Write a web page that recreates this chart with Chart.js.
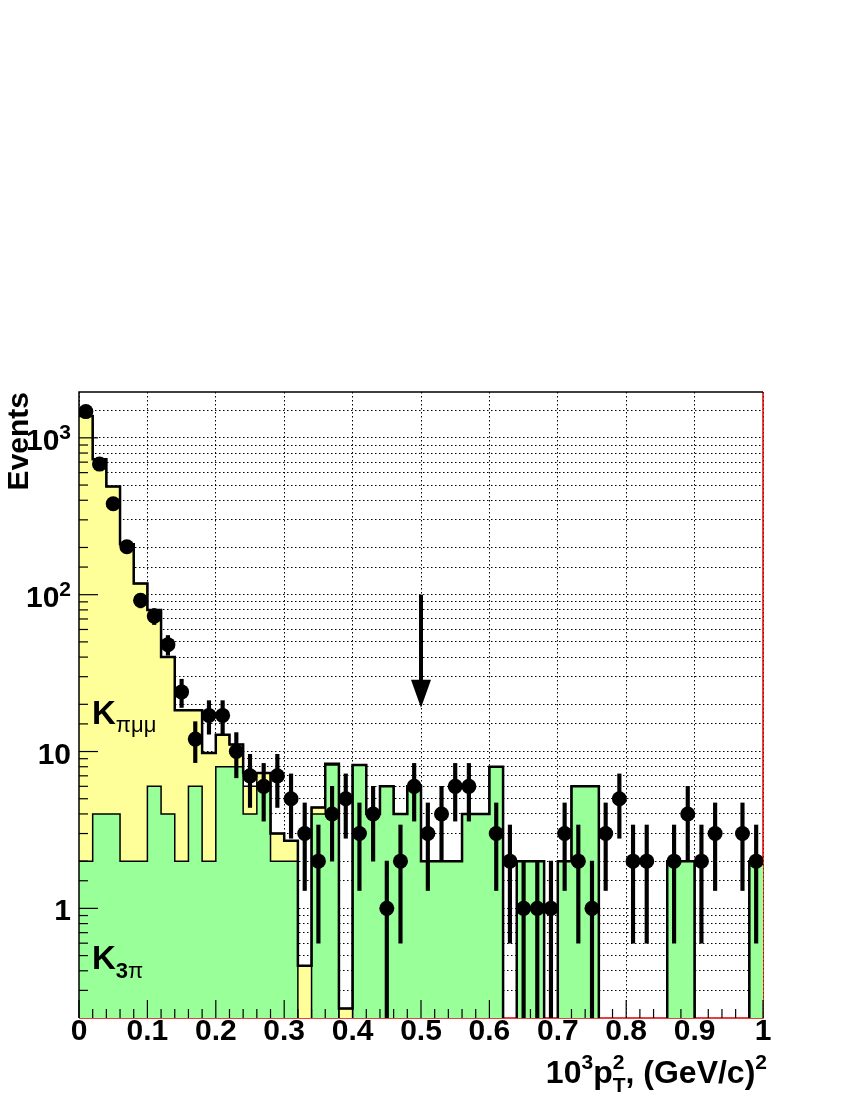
<!DOCTYPE html>
<html>
<head>
<meta charset="utf-8">
<script src="https://cdn.jsdelivr.net/npm/chart.js@4.4.0/dist/chart.umd.min.js"></script>
<style>
  html, body { margin: 0; padding: 0; background: #fff; }
  #wrap { width: 850px; height: 1100px; }
</style>
</head>
<body>
<div id="wrap"><canvas id="pt2" width="850" height="1100"></canvas></div>
<script>
// bin low edges, width 0.02
const binLow = [0.00, 0.02, 0.04, 0.06, 0.08, 0.10, 0.12, 0.14, 0.16, 0.18,
                0.20, 0.22, 0.24, 0.26, 0.28, 0.30, 0.32, 0.34, 0.36, 0.38,
                0.40, 0.42, 0.44, 0.46, 0.48, 0.50, 0.52, 0.54, 0.56, 0.58,
                0.60, 0.62, 0.64, 0.66, 0.68, 0.70, 0.72, 0.74, 0.76, 0.78,
                0.80, 0.82, 0.84, 0.86, 0.88, 0.90, 0.92, 0.94, 0.96, 0.98];
const binWidth = 0.02;

// data (events per bin) and its errors
const dataCounts = [1470, 680, 380, 202, 92, 73, 48, 24, 12, 17,
                    17, 10, 7, 6, 7, 5, 3, 2, 4, 5,
                    3, 4, 1, 2, 6, 3, 4, 6, 6, 0,
                    3, 2, 1, 1, 1, 3, 2, 1, 3, 5,
                    2, 2, 0, 2, 4, 2, 3, 0, 3, 2];
const dataErrors = [38, 26, 19.5, 14.2, 9.6, 8.5, 6.9, 4.9, 3.5, 4.1,
                    4.1, 3.2, 2.6, 2.4, 2.6, 2.2, 1.7, 1.4, 2, 2.2,
                    1.7, 2, 1, 1.4, 2.4, 1.7, 2, 2.4, 2.4, 0,
                    1.7, 1.4, 1, 1, 1, 1.7, 1.4, 1, 1.7, 2.2,
                    1.4, 1.4, 0, 1.4, 2, 1.4, 1.7, 0, 1.7, 1.4];

// MC: K3pi alone (green), K3pi + Kpimumu (yellow), total outline
const k3pi = [2, 4, 4, 2, 2, 6, 4, 2, 6, 2,
              8, 8, 4, 6.3, 2, 2, 0, 4, 8.2, 0,
              8.2, 4, 6, 4, 6, 2, 2, 2, 4, 4,
              8, 0, 2, 2, 0, 2, 6, 6, 0, 0,
              0, 0, 0, 2, 2, 0, 0, 0, 0, 2];
const kpimumuStack = [1380, 730, 490, 210, 118, 80, 40, 18.3, 18.3, 9.8,
                      12.8, 11.1, 6.0, 7.3, 3.0, 2.7, 0.43, 4.4, 8.35, 0.23,
                      8.2, 4, 6, 4, 6, 2, 2, 2, 4, 4,
                      8, 0, 2, 2, 0, 2, 6, 6, 0, 0,
                      0, 0, 0, 2, 2, 0, 0, 0, 0, 2];
const mcTotal = [1380, 730, 490, 210, 118, 80, 40, 18.3, 18.3, 9.8,
                 12.8, 11.1, 7.3, 7.3, 3.0, 2.7, 0.43, 4.4, 8.35, 0.23,
                 8.2, 4, 6, 4, 6, 2, 2, 2, 4, 4,
                 8, 0, 2, 2, 0, 2, 6, 6, 0, 0,
                 0, 0, 0, 2, 2, 0, 0, 0, 0, 2];

// y labels: mantissa text + exponent
const yTickValues = [1, 10, 100, 1000];
const yTickBase = ['1', '10', '10', '10'];
const yTickExp = ['', '', '2', '3'];

// cut arrow
const arrowX = 0.5;
const arrowFrom = 100;
const arrowTo = 19;

const X_MIN = 0, X_MAX = 1;
const Y_MIN = 0.2, Y_MAX = 1960;
const FONT = '"Liberation Sans", Arial, Helvetica, sans-serif';

function histPoints(values) {
    // empty bins go below the frame so only their edges show
    const pts = binLow.map((x, i) => ({ x: x, y: values[i] > 0 ? values[i] : Y_MIN / 2 }));
    pts.push({ x: X_MAX, y: pts[pts.length - 1].y });
    return pts;
}

const points = [];
const errBars = [];
dataCounts.forEach((n, i) => {
    if (n <= 0) return;
    const xc = binLow[i] + binWidth / 2;
    points.push({ x: xc, y: n });
    errBars.push({ x: xc, y: [Math.max(n - dataErrors[i], Y_MIN), n + dataErrors[i]] });
});

function richText(ctx, parts, x, baseline, align) {
    // parts: {t, size, bold, dy, adv}
    let w = 0;
    parts.forEach(p => {
        ctx.font = (p.bold ? 'bold ' : '') + p.size + 'px ' + FONT;
        if (p.adv !== false) w += ctx.measureText(p.t).width;
    });
    let cx = align === 'right' ? x - w : x;
    ctx.textAlign = 'left';
    ctx.textBaseline = 'alphabetic';
    parts.forEach(p => {
        ctx.font = (p.bold ? 'bold ' : '') + p.size + 'px ' + FONT;
        ctx.fillText(p.t, cx, baseline + (p.dy || 0));
        if (p.adv !== false) cx += ctx.measureText(p.t).width;
    });
}

const decorations = {
    id: 'decorations',
    beforeDatasetsDraw(chart) {
        const { ctx, chartArea: a } = chart;
        ctx.save();
        ctx.strokeStyle = '#e00000';
        ctx.lineWidth = 1.5;
        ctx.beginPath();
        ctx.moveTo(a.left, a.bottom);
        ctx.lineTo(a.right, a.bottom);
        ctx.lineTo(a.right, a.top);
        ctx.stroke();
        ctx.restore();
    },
    afterDatasetsDraw(chart) {
        const { ctx, chartArea: a, scales: { x, y } } = chart;
        ctx.save();
        ctx.strokeStyle = '#000';
        ctx.fillStyle = '#000';

        // frame
        ctx.lineWidth = 1.5;
        ctx.beginPath();
        ctx.moveTo(a.right, a.top);
        ctx.lineTo(a.left, a.top);
        ctx.lineTo(a.left, a.bottom);
        ctx.stroke();

        // x ticks, pointing inward
        ctx.lineWidth = 1.2;
        binLow.concat([X_MAX]).forEach(v => {
            const px = x.getPixelForValue(v);
            const major = Math.abs(v * 10 - Math.round(v * 10)) < 1e-6;
            ctx.beginPath();
            ctx.moveTo(px, a.bottom);
            ctx.lineTo(px, a.bottom - (major ? 18 : 9));
            ctx.stroke();
        });
        // y ticks
        y.ticks.forEach(t => {
            if (t.value <= Y_MIN || t.value >= Y_MAX) return;
            const lg = Math.log10(t.value);
            const major = Math.abs(lg - Math.round(lg)) < 1e-6;
            const py = y.getPixelForValue(t.value);
            ctx.beginPath();
            ctx.moveTo(a.left, py);
            ctx.lineTo(a.left + (major ? 19 : 9), py);
            ctx.stroke();
        });

        // arrow
        const ax = x.getPixelForValue(arrowX);
        const ay0 = y.getPixelForValue(arrowFrom);
        const ay1 = y.getPixelForValue(arrowTo);
        ctx.lineWidth = 4;
        ctx.beginPath();
        ctx.moveTo(ax, ay0);
        ctx.lineTo(ax, ay1 - 24);
        ctx.stroke();
        ctx.beginPath();
        ctx.moveTo(ax - 10, ay1 - 28);
        ctx.lineTo(ax + 10, ay1 - 28);
        ctx.lineTo(ax, ay1);
        ctx.closePath();
        ctx.fill();

        // component labels
        richText(ctx, [
            { t: 'K', size: 33, bold: true },
            { t: '\u03C0\u03BC\u03BC', size: 22, bold: false, dy: 8 }
        ], a.left + 13, 724, 'left');
        richText(ctx, [
            { t: 'K', size: 33, bold: true },
            { t: '3', size: 22, bold: true, dy: 9 },
            { t: '\u03C0', size: 22, bold: false, dy: 9 }
        ], a.left + 13, 969, 'left');
        ctx.restore();
    },
    afterDraw(chart) {
        const { ctx, chartArea: a, scales: { y } } = chart;
        ctx.save();
        ctx.fillStyle = '#000';
        // y tick labels with real superscripts
        yTickValues.forEach((v, k) => {
            const py = y.getPixelForValue(v);
            const parts = [{ t: yTickBase[k], size: 30, bold: true }];
            if (yTickExp[k]) parts.push({ t: yTickExp[k], size: 21, bold: true, dy: -11 });
            richText(ctx, parts, a.left - 8, py + 12, 'right');
        });
        ctx.restore();

        ctx.save();
        ctx.fillStyle = '#000';
        // y title
        ctx.translate(28, a.top);
        ctx.rotate(-Math.PI / 2);
        ctx.font = 'bold 30px ' + FONT;
        ctx.textAlign = 'right';
        ctx.textBaseline = 'alphabetic';
        ctx.fillText('Events', 0, 0);
        ctx.restore();

        ctx.save();
        ctx.fillStyle = '#000';
        richText(ctx, [
            { t: '10', size: 32, bold: true },
            { t: '3', size: 21, bold: true, dy: -14 },
            { t: 'p', size: 32, bold: true },
            { t: '2', size: 21, bold: true, dy: -14, adv: false },
            { t: 'T', size: 21, bold: true, dy: 9 },
            { t: ', (GeV/c)', size: 32, bold: true },
            { t: '2', size: 21, bold: true, dy: -14 }
        ], 767, 1083, 'right');
        ctx.restore();
    }
};

const ctx = document.getElementById('pt2').getContext('2d');
const chart = new Chart(ctx, {
    type: 'line',
    data: {
        datasets: [
            {
                type: 'scatter',
                label: 'Data',
                data: points,
                pointRadius: 7.5,
                pointHoverRadius: 7.5,
                pointBackgroundColor: '#000',
                pointBorderWidth: 0,
                showLine: false
            },
            {
                type: 'bar',
                label: 'Errors',
                data: errBars,
                backgroundColor: '#000',
                borderWidth: 0,
                barThickness: 3.5
            },
            {
                label: 'MC total',
                data: histPoints(mcTotal),
                stepped: true,
                borderColor: '#000',
                borderWidth: 2.5,
                pointRadius: 0,
                fill: false
            },
            {
                label: 'K3pi',
                data: histPoints(k3pi),
                stepped: true,
                borderColor: '#000',
                borderWidth: 1.5,
                backgroundColor: '#99ff99',
                pointRadius: 0,
                fill: 'start'
            },
            {
                label: 'Kpimumu',
                data: histPoints(kpimumuStack),
                stepped: true,
                borderColor: '#000',
                borderWidth: 1.5,
                backgroundColor: '#ffff99',
                pointRadius: 0,
                fill: 'start'
            }
        ]
    },
    options: {
        responsive: false,
        animation: false,
        devicePixelRatio: 1,
        layout: { padding: { top: 392, right: 87, bottom: 0, left: 0 } },
        plugins: {
            legend: { display: false },
            tooltip: { enabled: false }
        },
        scales: {
            x: {
                type: 'linear',
                min: X_MIN,
                max: X_MAX,
                offset: false,
                afterFit: s => { s.height = 82; },
                grid: { color: '#000', lineWidth: 1, drawTicks: false, offset: false },
                border: { display: false, dash: [1.5, 2.5] },
                ticks: {
                    stepSize: 0.1,
                    padding: -4,
                    color: '#000',
                    font: { family: FONT, size: 30, weight: 'bold' },
                    maxRotation: 0,
                    callback: v => String(+v.toFixed(1))
                }
            },
            y: {
                type: 'logarithmic',
                min: Y_MIN,
                max: Y_MAX,
                afterFit: s => { s.width = 79; },
                grid: { color: '#000', lineWidth: 1, drawTicks: false },
                border: { display: false, dash: [1.5, 2.5] },
                ticks: {
                    padding: 9,
                    autoSkip: false,
                    // labels are drawn by the plugin; keep grid lines inside the range
                    callback: v => (v <= Y_MIN || v >= Y_MAX) ? null : ''
                }
            }
        }
    },
    plugins: [decorations]
});
</script>
</body>
</html>
